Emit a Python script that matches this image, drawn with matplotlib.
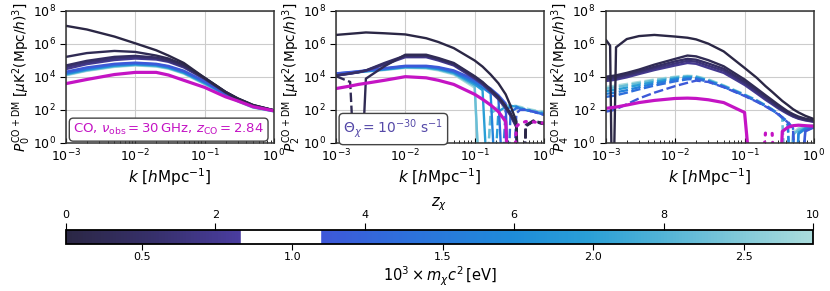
import numpy as np
import matplotlib
matplotlib.use("Agg")
import matplotlib.pyplot as plt
from matplotlib.colors import LinearSegmentedColormap, Normalize
from matplotlib.cm import ScalarMappable

# redshift of each dark-matter curve (colour coded)
Z = [0.0, 0.5, 1.0, 1.5, 2.0, 3.5, 4.5, 5.5, 7.0, 8.5, 10.0]
Z_GAP = (2.34, 3.40)

# ---- monopole, log10 |P0| ----
K0 = [1e-3, 2e-3, 5e-3, 1e-2, 2e-2, 3e-2, 5e-2, 0.1, 0.2, 0.3, 0.5, 1.0]
L0 = [
    [7.10, 6.88, 6.45, 6.04, 5.62, 5.30, 4.85, 3.95, 3.10, 2.70, 2.30, 1.98],
    [5.22, 5.45, 5.58, 5.52, 5.30, 5.12, 4.75, 3.95, 3.10, 2.70, 2.30, 1.98],
    [4.70, 4.98, 5.22, 5.28, 5.18, 5.02, 4.68, 3.92, 3.08, 2.68, 2.28, 1.98],
    [4.60, 4.88, 5.12, 5.20, 5.12, 4.97, 4.63, 3.90, 3.07, 2.67, 2.27, 1.97],
    [4.48, 4.78, 5.03, 5.12, 5.06, 4.92, 4.58, 3.88, 3.06, 2.66, 2.26, 1.97],
    [4.32, 4.58, 4.80, 4.87, 4.80, 4.67, 4.38, 3.75, 3.00, 2.62, 2.24, 1.96],
    [4.26, 4.53, 4.76, 4.83, 4.77, 4.63, 4.34, 3.71, 2.98, 2.60, 2.22, 1.95],
    [4.21, 4.48, 4.72, 4.80, 4.73, 4.60, 4.30, 3.67, 2.96, 2.58, 2.20, 1.94],
    [4.17, 4.44, 4.68, 4.76, 4.70, 4.56, 4.26, 3.63, 2.94, 2.56, 2.18, 1.93],
    [4.13, 4.40, 4.64, 4.73, 4.66, 4.53, 4.23, 3.59, 2.92, 2.54, 2.16, 1.92],
    [4.10, 4.37, 4.61, 4.70, 4.63, 4.50, 4.20, 3.56, 2.90, 2.52, 2.14, 1.91],
]
MAG0 = [3.60, 3.85, 4.15, 4.28, 4.28, 4.12, 3.80, 3.37, 2.80, 2.55, 2.20, 1.95]

# ---- quadrupole, log10 |P2|; sign: + positive, - negative, 0 zero crossing ----
K2 = [1e-3, 1.6e-3, 2.1e-3, 2.7e-3, 5e-3, 1e-2, 2e-2, 3e-2, 5e-2, 0.1,
      0.13, 0.17, 0.22, 0.28, 0.33, 0.4, 0.45, 0.55, 0.7, 1.0]
L2 = [
    [6.55, 6.62, 6.66, 6.70, 6.65, 6.58, 6.35, 6.12, 5.75, 5.00, 4.63, 4.15, 3.62, 2.95, 2.25, 1.30, -6, 1.00, 1.35, 1.15],
    [4.05, 3.70, -6, 3.90, 4.65, 5.35, 5.35, 5.15, 4.85, 4.05, 3.70, 3.25, 2.80, 2.25, 1.80, 1.10, -6, 1.05, 1.30, 1.15],
    [4.10, 4.22, 4.30, 4.40, 4.85, 5.30, 5.30, 5.10, 4.80, 4.00, 3.65, 3.20, 2.75, 2.20, 1.75, 1.05, -6, 1.10, 1.35, 1.20],
    [4.09, 4.21, 4.29, 4.39, 4.80, 5.25, 5.25, 5.05, 4.75, 3.95, 3.60, 3.15, 2.70, 2.15, 1.70, 1.00, -6, 1.10, 1.30, 1.20],
    [4.08, 4.20, 4.28, 4.38, 4.75, 5.20, 5.20, 5.00, 4.70, 3.90, 3.55, 3.10, 2.65, 2.10, 1.65, 0.95, -6, 1.05, 1.30, 1.15],
    [4.22, 4.30, 4.35, 4.40, 4.54, 4.68, 4.68, 4.60, 4.40, 3.85, 3.60, 3.30, 2.90, 2.40, -6, 1.80, 2.00, 2.00, 1.90, 1.70],
    [4.21, 4.28, 4.33, 4.38, 4.51, 4.65, 4.65, 4.56, 4.35, 3.75, 3.50, 3.15, 2.75, -6, 1.90, 2.10, 2.10, 2.00, 1.90, 1.72],
    [4.19, 4.26, 4.31, 4.36, 4.48, 4.62, 4.62, 4.52, 4.30, 3.65, 3.35, 3.00, -6, 2.00, 2.20, 2.20, 2.10, 2.00, 1.90, 1.75],
    [4.18, 4.25, 4.30, 4.35, 4.46, 4.60, 4.58, 4.48, 4.25, 3.55, 3.20, -6, 1.90, 2.20, 2.25, 2.20, 2.10, 2.00, 1.90, 1.80],
    [4.17, 4.24, 4.29, 4.34, 4.44, 4.58, 4.55, 4.44, 4.20, 3.45, -6, 1.80, 2.10, 2.25, 2.25, 2.20, 2.15, 2.05, 1.95, 1.85],
    [4.16, 4.23, 4.28, 4.33, 4.42, 4.55, 4.52, 4.40, 4.15, 3.35, -6, 1.90, 2.20, 2.30, 2.30, 2.25, 2.20, 2.10, 2.00, 1.90],
]
S2 = [
    "++++++++++++++++0---",
    "--0+++++++++++++0---",
    "++++++++++++++++0---",
    "++++++++++++++++0---",
    "++++++++++++++++0---",
    "++++++++++++++0-----",
    "+++++++++++++0------",
    "++++++++++++0-------",
    "+++++++++++0--------",
    "++++++++++0---------",
    "++++++++++0---------",
]
MAG2 = [3.30, 3.45, 3.55, 3.62, 3.80, 4.02, 3.95, 3.80, 3.55, 2.95, 2.65, 2.30, 1.90, 1.30, -6, 1.00, 1.20, 1.30, 1.28, 1.20]
MAG2_S = "++++++++++++++0-----"

# ---- hexadecapole, log10 |P4| ----
K4 = [1e-3, 1.15e-3, 1.25e-3, 1.4e-3, 2e-3, 3e-3, 5e-3, 1e-2, 1.5e-2, 2e-2, 3e-2, 5e-2,
      0.1, 0.15, 0.2, 0.25, 0.3, 0.35, 0.42, 0.5, 0.6, 0.75, 1.0]
L4 = [
    [6.25, 5.90, -6, 5.80, 6.30, 6.48, 6.55, 6.45, 6.38, 6.28, 6.02, 5.55, 4.55, 3.95, 3.45, 3.10, 2.80, 2.55, 2.30, 2.05, 1.85, 1.65, 1.45],
    [4.02, 4.05, 4.07, 4.10, 4.25, 4.45, 4.75, 5.10, 5.30, 5.25, 5.02, 4.65, 3.85, 3.30, 2.90, 2.60, 2.35, 2.15, 1.92, 1.75, 1.60, 1.48, 1.38],
    [3.92, 3.95, 3.97, 4.00, 4.15, 4.35, 4.62, 4.95, 5.10, 5.05, 4.82, 4.50, 3.72, 3.20, 2.80, 2.50, 2.25, 2.05, 1.85, 1.68, 1.53, 1.42, 1.33],
    [3.85, 3.88, 3.90, 3.93, 4.08, 4.27, 4.52, 4.82, 4.98, 4.93, 4.68, 4.38, 3.62, 3.10, 2.70, 2.42, 2.18, 2.00, 1.80, 1.63, 1.50, 1.40, 1.30],
    [3.76, 3.79, 3.81, 3.84, 3.98, 4.18, 4.42, 4.70, 4.85, 4.80, 4.55, 4.25, 3.52, 3.00, 2.62, 2.35, 2.12, 1.95, 1.76, 1.60, 1.47, 1.37, 1.28],
    [1.90, 1.95, 1.98, 2.05, 2.35, 2.70, 3.05, 3.45, 3.65, 3.78, 3.70, 3.38, 2.85, 2.50, 2.22, 1.98, 1.76, 1.55, 1.25, 0.80, -6, 0.70, 0.95],
    [2.80, 2.83, 2.85, 2.89, 3.05, 3.25, 3.48, 3.74, 3.86, 3.88, 3.72, 3.40, 2.87, 2.52, 2.24, 2.00, 1.78, 1.56, 1.30, 0.90, -6, 0.75, 0.95],
    [2.98, 3.01, 3.03, 3.07, 3.20, 3.38, 3.60, 3.84, 3.93, 3.93, 3.75, 3.42, 2.89, 2.54, 2.26, 2.01, 1.79, 1.55, 1.20, -6, 0.55, 0.85, 1.00],
    [3.15, 3.18, 3.20, 3.23, 3.36, 3.52, 3.70, 3.92, 4.00, 3.98, 3.78, 3.44, 2.91, 2.56, 2.27, 2.02, 1.79, 1.54, 1.10, -6, 0.65, 0.90, 1.02],
    [3.30, 3.33, 3.35, 3.38, 3.50, 3.63, 3.80, 3.98, 4.05, 4.02, 3.82, 3.47, 2.93, 2.58, 2.28, 2.03, 1.78, 1.50, -6, 0.50, 0.80, 0.95, 1.05],
    [3.40, 3.43, 3.45, 3.48, 3.58, 3.70, 3.85, 4.02, 4.08, 4.05, 3.86, 3.50, 2.95, 2.60, 2.30, 2.05, 1.80, 1.48, -6, 0.60, 0.90, 1.00, 1.08],
]
S4 = [
    "++0++++++++++++++++++++",
    "+++++++++++++++++++++++",
    "+++++++++++++++++++++++",
    "+++++++++++++++++++++++",
    "+++++++++++++++++++++++",
    "--------------------0++",
    "--------------------0++",
    "-------------------0+++",
    "-------------------0+++",
    "------------------0++++",
    "------------------0++++",
]
MAG4 = [2.10, 2.13, 2.15, 2.18, 2.30, 2.45, 2.58, 2.70, 2.72, 2.70, 2.62, 2.45, 1.85, -6, 0.60, 0.60, -6, 0.70, 0.95, 1.05, 1.08, 1.05, 1.02]
MAG4_S = "+++++++++++++0--0++++++"

MAGENTA = "#c414c4"
cmap = LinearSegmentedColormap.from_list("zchi", [
    (0.0, "#2b2745"), (0.12, "#37306c"), (0.234, "#4a3da0"),
    (0.34, "#3e57d8"), (0.45, "#2e6fdc"), (0.6, "#1e8cd9"),
    (0.7, "#2a9fd6"), (0.8, "#52b3d6"), (0.9, "#80c8d8"), (1.0, "#aadcdc"),
])
norm = Normalize(0, 10)


def split(L, s):
    P = 10.0 ** np.asarray(L, dtype=float)
    pos = np.array([c in "+0" for c in s])
    neg = np.array([c in "-0" for c in s])
    return np.where(pos, P, np.nan), np.where(neg, P, np.nan)


def draw(ax, K, rows, signs, mag, mag_s):
    for i in range(len(Z) - 1, -1, -1):
        s = signs[i] if signs else "+" * len(K)
        p, n = split(rows[i], s)
        c = cmap(norm(Z[i]))
        ax.plot(K, n, color=c, lw=1.7, ls=(0, (4, 1.5)))
        ax.plot(K, p, color=c, lw=1.7, solid_capstyle="round")
    s = mag_s if mag_s else "+" * len(K)
    p, n = split(mag, s)
    ax.plot(K, p, color=MAGENTA, lw=2.3)
    ax.plot(K, n, color=MAGENTA, lw=2.3, ls=(0, (0.6, 2.2)), dash_capstyle="round")


fig = plt.figure(figsize=(8.3, 2.91), dpi=100)
lefts = [0.0795, 0.4048, 0.730]
axes = [fig.add_axes([l, 0.5086, 0.2506, 0.4536]) for l in lefts]

draw(axes[0], K0, L0, None, MAG0, None)
draw(axes[1], K2, L2, S2, MAG2, MAG2_S)
draw(axes[2], K4, L4, S4, MAG4, MAG4_S)

for ax, ell in zip(axes, [0, 2, 4]):
    ax.set_xscale("log")
    ax.set_yscale("log")
    ax.set_xlim(1e-3, 1)
    ax.set_ylim(1, 1e8)
    ax.set_yticks([1e0, 1e2, 1e4, 1e6, 1e8])
    ax.yaxis.set_minor_locator(matplotlib.ticker.NullLocator())
    ax.grid(True, which="major", color="#cccccc", lw=0.8)
    ax.set_axisbelow(True)
    ax.tick_params(axis="x", which="both", direction="in", labelsize=9)
    ax.tick_params(axis="y", direction="out", labelsize=9, length=4)
    for sp in ax.spines.values():
        sp.set_color("#333333")
        sp.set_linewidth(1.1)
    ax.set_xlabel(r"$k\ [h\mathrm{Mpc}^{-1}]$", fontsize=11, labelpad=1)
    ax.set_ylabel(r"$P_{%d}^{\mathrm{CO+DM}}\ \left[\mu\mathrm{K}^2(\mathrm{Mpc}/h)^3\right]$" % ell,
                  fontsize=9.8, labelpad=0)

box = dict(boxstyle="round,pad=0.3", fc="white", ec="#444444", lw=1.0)
axes[0].text(0.035, 0.075, r"CO, $\nu_\mathrm{obs}=30\,$GHz, $z_\mathrm{CO}=2.84$",
             transform=axes[0].transAxes, color=MAGENTA, fontsize=9.5, bbox=box)
axes[1].text(0.035, 0.075, r"$\Theta_\chi=10^{-30}\ \mathrm{s}^{-1}$",
             transform=axes[1].transAxes, color="#5549a8", fontsize=10, bbox=box)

# colour bar: redshift on top, particle mass below
cax = fig.add_axes([0.0795, 0.1615, 0.900, 0.048])
cb = fig.colorbar(ScalarMappable(norm=norm, cmap=cmap), cax=cax, orientation="horizontal")
cax.axvspan(Z_GAP[0], Z_GAP[1], color="white", zorder=3)
cb.outline.set_linewidth(1.3)
cb.outline.set_zorder(4)
cax.xaxis.set_ticks_position("top")
cax.xaxis.set_label_position("top")
cb.set_ticks([0, 2, 4, 6, 8, 10])
cax.tick_params(axis="x", labelsize=8, length=5, width=0.8, pad=2)
cb.set_label(r"$z_\chi$", fontsize=10.5, labelpad=3)

m_per_z = 0.2481
sec = cax.secondary_xaxis("bottom", functions=(lambda z: m_per_z * (1 + z),
                                               lambda m: m / m_per_z - 1))
sec.set_xticks([0.5, 1.0, 1.5, 2.0, 2.5])
sec.tick_params(labelsize=8, length=4, width=0.8, pad=2)
sec.set_xlabel(r"$10^3\times m_\chi c^2\,$[eV]", fontsize=10.5, labelpad=2)
for sp in sec.spines.values():
    sp.set_visible(False)

fig.savefig("out.png", dpi=100)
